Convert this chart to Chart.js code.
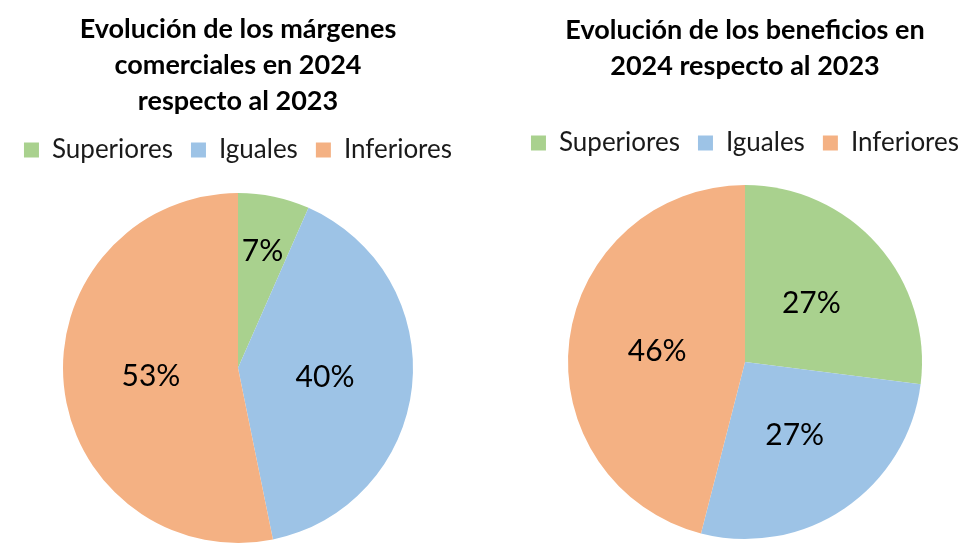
<!DOCTYPE html>
<html lang="es">
<head>
<meta charset="utf-8">
<title>Evolución de márgenes y beneficios 2024</title>
<script src="https://cdn.jsdelivr.net/npm/chart.js@4.4.1/dist/chart.umd.min.js"></script>
<style>
  html, body { margin: 0; padding: 0; background: #fff; }
  #wrap { position: relative; width: 980px; height: 560px; }
  .pie-box { position: absolute; top: 0; height: 560px; width: 490px; }
  #box-margenes { left: 0; }
  #box-beneficios { left: 490px; }
</style>
</head>
<body>
<div id="wrap">
  <div class="pie-box" id="box-margenes"><canvas id="chart-margenes"></canvas></div>
  <div class="pie-box" id="box-beneficios"><canvas id="chart-beneficios"></canvas></div>
</div>
<script>
// categories shared by both pies
var categories = ["Superiores", "Iguales", "Inferiores"];
// share of answers (%)
var margenesValues = [6.6, 40.2, 53.2];
var beneficiosValues = [27, 27, 46];
// titles, one entry per line
var margenesTitle = ["Evolución de los márgenes", "comerciales en 2024", "respecto al 2023"];
var beneficiosTitle = ["Evolución de los beneficios en", "2024 respecto al 2023"];

var sliceColors = ["#a9d18e", "#9dc3e6", "#f4b183"];

Chart.defaults.font.family = "Lato, 'Open Sans', sans-serif";
Chart.defaults.color = "#111";

// Draw the percentage inside each slice
var sliceLabels = {
  id: "sliceLabels",
  afterDatasetsDraw: function (chart) {
    var ctx = chart.ctx;
    var data = chart.data.datasets[0].data;
    var total = data.reduce(function (a, b) { return a + b; }, 0);
    ctx.save();
    ctx.font = "30px Lato, 'Open Sans', sans-serif";
    ctx.fillStyle = "#000";
    ctx.textAlign = "center";
    ctx.textBaseline = "middle";
    chart.getDatasetMeta(0).data.forEach(function (arc, i) {
      var p = arc.getProps(["x", "y", "startAngle", "endAngle", "outerRadius"], true);
      var mid = (p.startAngle + p.endAngle) / 2;
      // small slices get their label pushed outwards
      var frac = data[i] / total < 0.1 ? 0.68 : 0.5;
      var r = p.outerRadius * frac;
      ctx.fillText(Math.round(data[i]) + "%", p.x + Math.cos(mid) * r, p.y + Math.sin(mid) * r);
    });
    ctx.restore();
  }
};

// Extra space between the legend and the pie
function legendGap(gap) {
  return {
    id: "legendGap",
    beforeInit: function (chart) {
      var fit = chart.legend.fit;
      chart.legend.fit = function () {
        fit.call(this);
        this.height += gap;
      };
    }
  };
}

function drawPie(id, values, title, opts) {
  return new Chart(document.getElementById(id), {
    type: "pie",
    data: {
      labels: categories,
      datasets: [{
        data: values,
        backgroundColor: sliceColors,
        borderWidth: 0
      }]
    },
    options: {
      responsive: true,
      maintainAspectRatio: false,
      animation: false,
      layout: { padding: opts.padding },
      plugins: {
        title: {
          display: true,
          text: title,
          color: "#000",
          font: { size: 27, weight: "bold", lineHeight: 36 / 27 },
          padding: { top: opts.titleTop, bottom: opts.titleGap }
        },
        legend: {
          position: "top",
          labels: {
            boxWidth: 15,
            boxHeight: 15,
            padding: 18,
            color: "#1a1a1a",
            font: { size: 26 }
          }
        },
        tooltip: { enabled: false }
      }
    },
    plugins: [sliceLabels, legendGap(opts.legendGap)]
  });
}

drawPie("chart-margenes", margenesValues, margenesTitle, {
  padding: { left: 0, right: 14, top: 0, bottom: 17 },
  titleTop: 11,
  titleGap: 0,
  legendGap: 20
});

drawPie("chart-beneficios", beneficiosValues, beneficiosTitle, {
  padding: { left: 20, right: 0, top: 0, bottom: 21 },
  titleTop: 12,
  titleGap: 28,
  legendGap: 19
});
</script>
</body>
</html>
